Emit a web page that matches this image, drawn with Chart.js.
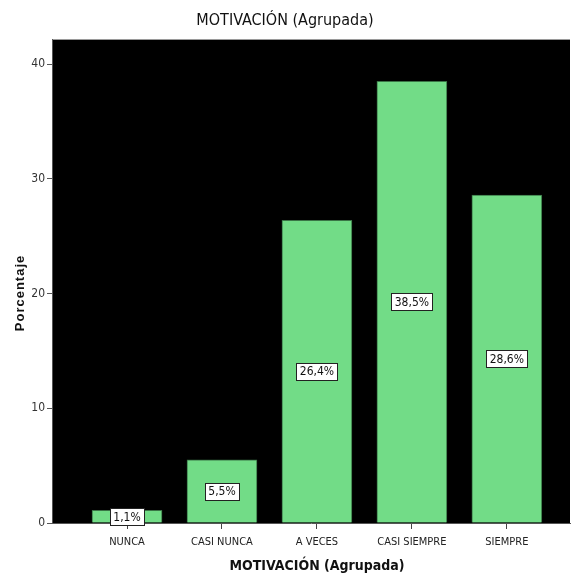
<!DOCTYPE html>
<html>
<head>
<meta charset="utf-8">
<script src="https://cdn.jsdelivr.net/npm/chart.js@4.4.1/dist/chart.umd.min.js"></script>
<style>
  html, body { margin: 0; padding: 0; background: #ffffff; }
  #wrap { width: 571px; height: 576px; }
</style>
</head>
<body>
<div id="wrap"><canvas id="chart" width="571" height="576"></canvas></div>
<script>
// Grouped motivation levels and their share of responses (%)
const categories = ['NUNCA', 'CASI NUNCA', 'A VECES', 'CASI SIEMPRE', 'SIEMPRE'];
const percentages = [1.1, 5.5, 26.4, 38.5, 28.6];
const yTicks = [0, 10, 20, 30, 40];

const NARROW = "'Liberation Sans Narrow', 'DejaVu Sans Condensed', Arial, sans-serif";

// Black plotting area with a thin grey rule along its top
const plotBackground = {
  id: 'plotBackground',
  beforeDraw(chart) {
    const { ctx, chartArea: a } = chart;
    ctx.save();
    ctx.fillStyle = '#000000';
    ctx.fillRect(a.left, a.top, a.right - a.left, a.bottom - a.top);
    ctx.strokeStyle = '#9a9a9a';
    ctx.lineWidth = 1;
    ctx.beginPath();
    ctx.moveTo(a.left, a.top + 0.5);
    ctx.lineTo(a.right, a.top + 0.5);
    ctx.stroke();
    ctx.restore();
  }
};

// Axis titles, placed a little off the plot centre
const axisTitles = {
  id: 'axisTitles',
  afterDraw(chart) {
    const { ctx } = chart;
    ctx.save();
    ctx.fillStyle = '#111111';
    ctx.textAlign = 'center';
    ctx.textBaseline = 'middle';
    ctx.font = "bold 14px " + NARROW;
    ctx.fillText('MOTIVACIÓN (Agrupada)', 317, 566);
    ctx.translate(20, 293);
    ctx.rotate(-Math.PI / 2);
    ctx.font = "bold 13px 'Liberation Sans', Arial, sans-serif";
    if ('letterSpacing' in ctx) ctx.letterSpacing = '1px';
    ctx.fillText('Porcentaje', 0, 0);
    ctx.restore();
  }
};

// Boxed percentage label in the middle of each bar
const valueBoxes = {
  id: 'valueBoxes',
  afterDatasetsDraw(chart) {
    const { ctx } = chart;
    const meta = chart.getDatasetMeta(0);
    ctx.save();
    ctx.font = '12px ' + NARROW;
    ctx.textAlign = 'center';
    ctx.textBaseline = 'middle';
    meta.data.forEach((bar, i) => {
      const text = percentages[i].toFixed(1).replace('.', ',') + '%';
      const cx = bar.x;
      const cy = (bar.y + bar.base) / 2;
      const w = Math.ceil(ctx.measureText(text).width) + 6;
      const h = 17;
      const x0 = Math.round(cx - w / 2) + 0.5;
      const y0 = Math.round(cy - h / 2) + 0.5;
      ctx.fillStyle = '#ffffff';
      ctx.fillRect(x0, y0, w, h);
      ctx.strokeStyle = '#222222';
      ctx.lineWidth = 1;
      ctx.strokeRect(x0, y0, w, h);
      ctx.fillStyle = '#111111';
      ctx.fillText(text, cx, cy + 1);
    });
    ctx.restore();
  }
};

new Chart(document.getElementById('chart'), {
  type: 'bar',
  data: {
    datasets: [{
      data: percentages.map((v, i) => ({ x: i, y: v })),
      backgroundColor: '#72dc87',
      borderColor: '#3a7446',
      borderWidth: 1,
      barThickness: 70
    }]
  },
  plugins: [plotBackground, valueBoxes, axisTitles],
  options: {
    responsive: false,
    animation: false,
    layout: { padding: { left: 0, right: 1, top: 0, bottom: 0 } },
    plugins: {
      legend: { display: false },
      tooltip: { enabled: false },
      title: {
        display: true,
        text: 'MOTIVACIÓN (Agrupada)',
        color: '#111111',
        font: { family: NARROW, size: 16, weight: 'normal' },
        padding: { top: 11, bottom: 8.8 }
      }
    },
    scales: {
      x: {
        type: 'linear',
        offset: false,
        min: -0.79,
        max: 4.665,
        afterFit(scale) { scale.height = 53; },
        afterBuildTicks(scale) {
          scale.ticks = categories.map((_, i) => ({ value: i }));
        },
        ticks: {
          autoSkip: false,
          maxRotation: 0,
          padding: 7,
          color: '#222222',
          font: { family: NARROW, size: 11 },
          callback: (v) => categories[v]
        },
        grid: {
          offset: false,
          drawOnChartArea: false,
          drawTicks: true,
          tickLength: 6,
          tickColor: '#444444'
        },
        border: { display: true, color: '#555555', width: 1 },
        title: { display: false }
      },
      y: {
        min: 0,
        max: 42.2,
        afterFit(scale) { scale.width = 52; },
        afterBuildTicks(scale) {
          scale.ticks = yTicks.map(v => ({ value: v }));
        },
        ticks: {
          padding: 2,
          color: '#333333',
          font: { family: NARROW, size: 12 }
        },
        grid: {
          drawOnChartArea: false,
          drawTicks: true,
          tickLength: 5,
          tickColor: '#555555'
        },
        border: { display: true, color: '#555555', width: 1 },
        title: { display: false }
      }
    }
  }
});
</script>
</body>
</html>
